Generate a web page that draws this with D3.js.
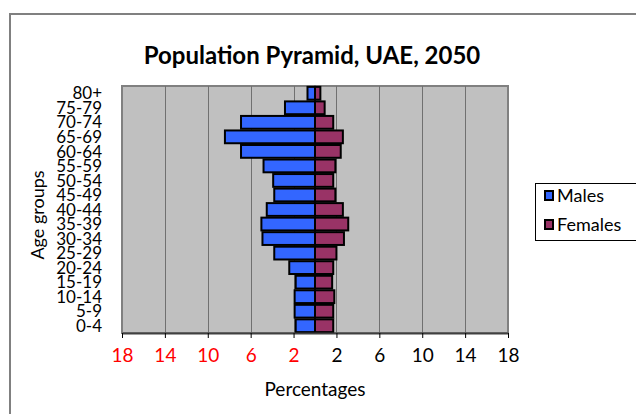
<!DOCTYPE html>
<html>
<head>
<meta charset="utf-8">
<script src="https://cdn.jsdelivr.net/npm/d3@7"></script>
<style>
  body { margin: 0; background: #fff; }
  svg { font-family: Lato, "Open Sans", sans-serif; }
</style>
</head>
<body>
<div class="chart-container"></div>
<script>
// age groups, bottom to top
var ageGroups = ['0-4', '5-9', '10-14', '15-19', '20-24', '25-29', '30-34', '35-39',
  '40-44', '45-49', '50-54', '55-59', '60-64', '65-69', '70-74', '75-79', '80+'];
var males = [1.8, 1.9, 1.9, 1.8, 2.4, 3.8, 4.9, 5.0, 4.5, 3.8, 3.9, 4.8, 6.9, 8.4, 6.9, 2.8, 0.7];
var females = [1.7, 1.7, 1.8, 1.6, 1.7, 2.0, 2.7, 3.1, 2.6, 1.9, 1.7, 1.9, 2.4, 2.6, 1.7, 0.9, 0.5];
var xTicks = [-18, -14, -10, -6, -2, 2, 6, 10, 14, 18];
var seriesNames = ['Males', 'Females'];
var colors = ['#3366ff', '#993366'];

var W = 636, H = 414;
var plot = {left: 122, right: 508, top: 86, bottom: 333};

var svg = d3.select('.chart-container').append('svg')
  .attr('width', W)
  .attr('height', H);

// outer chart border
svg.append('rect')
  .attr('x', 10).attr('y', 14)
  .attr('width', W).attr('height', H)
  .style('fill', 'none')
  .style('stroke', '#808080')
  .style('stroke-width', 2);

var x = d3.scaleLinear()
  .domain([-18, 18])
  .range([plot.left, plot.right]);

var y = d3.scaleBand()
  .domain(ageGroups.slice().reverse())
  .range([plot.top, plot.bottom])
  .paddingInner(0.12)
  .paddingOuter(0.06);

// plot background
svg.append('rect')
  .attr('x', plot.left).attr('y', plot.top)
  .attr('width', plot.right - plot.left)
  .attr('height', plot.bottom - plot.top)
  .style('fill', '#c0c0c0')
  .style('stroke', '#808080')
  .style('stroke-width', 2);

// gridlines
svg.selectAll('.grid')
  .data(xTicks.slice(1, -1))
  .enter().append('line')
    .attr('x1', d => Math.round(x(d)) + 0.5)
    .attr('x2', d => Math.round(x(d)) + 0.5)
    .attr('y1', plot.top)
    .attr('y2', plot.bottom)
    .style('stroke', '#707070')
    .style('stroke-width', 1);

var rows = ageGroups.map((g, i) => ({age: g, m: males[i], f: females[i]}));

svg.selectAll('.male')
  .data(rows)
  .enter().append('rect')
    .attr('x', d => x(-d.m))
    .attr('y', d => y(d.age))
    .attr('width', d => x(0) - x(-d.m))
    .attr('height', y.bandwidth())
    .style('fill', colors[0])
    .style('stroke', '#000')
    .style('stroke-width', 2);

svg.selectAll('.female')
  .data(rows)
  .enter().append('rect')
    .attr('x', x(0))
    .attr('y', d => y(d.age))
    .attr('width', d => x(d.f) - x(0))
    .attr('height', y.bandwidth())
    .style('fill', colors[1])
    .style('stroke', '#000')
    .style('stroke-width', 2);

// x axis
var xAxis = d3.axisBottom(x)
  .tickValues(xTicks)
  .tickSize(5)
  .tickSizeOuter(0)
  .tickFormat(d => Math.abs(d));

var gX = svg.append('g')
  .attr('transform', `translate(0,${plot.bottom})`)
  .call(xAxis);
gX.select('.domain').style('stroke', '#404040').style('stroke-width', 2);
gX.selectAll('.tick line').style('stroke', '#000');
gX.selectAll('.tick text')
  .attr('y', 14)
  .attr('dy', '0.8em')
  .style('font-size', '19px')
  .style('font-family', 'Lato, sans-serif')
  .style('fill', d => d < 0 ? '#ff0000' : '#000');

// y axis labels
var yAxis = d3.axisLeft(y).tickSize(0).tickPadding(20);
var gY = svg.append('g')
  .attr('transform', `translate(${plot.left},0)`)
  .call(yAxis);
gY.select('.domain').remove();
gY.selectAll('.tick text')
  .attr('dy', '0.36em')
  .style('font-size', '17px')
  .style('font-family', 'Lato, sans-serif')
  .style('fill', '#000');

// titles
svg.append('text')
  .attr('x', 312).attr('y', 64)
  .attr('text-anchor', 'middle')
  .style('font-size', '24px')
  .style('font-weight', 'bold')
  .text('Population Pyramid, UAE, 2050');

svg.append('text')
  .attr('x', 315).attr('y', 396)
  .attr('text-anchor', 'middle')
  .style('font-size', '19px')
  .text('Percentages');

svg.append('text')
  .attr('transform', 'translate(44,215) rotate(-90)')
  .attr('text-anchor', 'middle')
  .style('font-size', '18px')
  .text('Age groups');

// legend
var legend = svg.append('g');
legend.append('rect')
  .attr('x', 535.5).attr('y', 183.5)
  .attr('width', 120).attr('height', 57)
  .style('fill', '#fff')
  .style('stroke', '#000')
  .style('stroke-width', 1);

var items = legend.selectAll('.item')
  .data(seriesNames)
  .enter().append('g')
    .attr('transform', (d, i) => `translate(0,${i * 29})`);
items.append('rect')
  .attr('x', 545).attr('y', 191)
  .attr('width', 8).attr('height', 9)
  .style('fill', (d, i) => colors[i])
  .style('stroke', '#000')
  .style('stroke-width', 2);
items.append('text')
  .attr('x', 557).attr('y', 202)
  .style('font-size', '18px')
  .text(d => d);
</script>
</body>
</html>
